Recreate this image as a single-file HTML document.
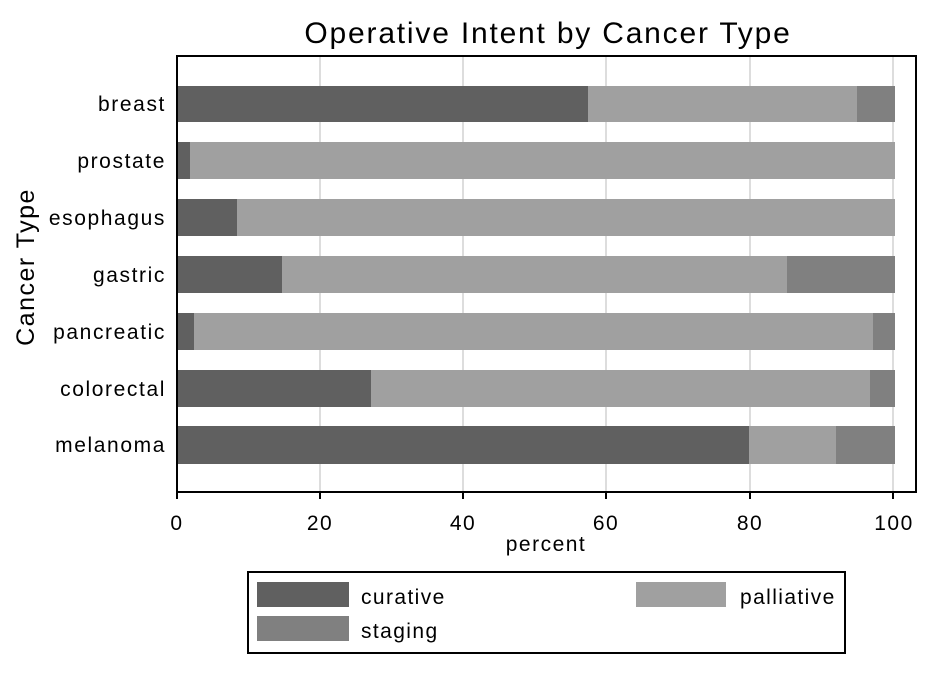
<!DOCTYPE html>
<html><head><style>
body{margin:0;background:#fff;}
text{font-family:"Liberation Sans",sans-serif;fill:#000;}
</style></head><body>
<svg width="945" height="671" xmlns="http://www.w3.org/2000/svg">
<rect width="945" height="671" fill="#fff"/>
<text x="548" y="43" font-size="30" letter-spacing="1.8" text-anchor="middle">Operative Intent by Cancer Type</text>
<g stroke="#ddd" stroke-width="2">
<line x1="320" y1="56" x2="320" y2="491"/><line x1="463" y1="56" x2="463" y2="491"/>
<line x1="606" y1="56" x2="606" y2="491"/><line x1="750" y1="56" x2="750" y2="491"/>
<line x1="893" y1="56" x2="893" y2="491"/>
</g>
<g>
<rect x="176" y="86" width="412" height="36" fill="#606060"/><rect x="588" y="86" width="269" height="36" fill="#a0a0a0"/><rect x="857" y="86" width="38" height="36" fill="#808080"/>
<rect x="176" y="142" width="14" height="37" fill="#606060"/><rect x="190" y="142" width="705" height="37" fill="#a0a0a0"/>
<rect x="176" y="199" width="61" height="37" fill="#606060"/><rect x="237" y="199" width="658" height="37" fill="#a0a0a0"/>
<rect x="176" y="256" width="106" height="37" fill="#606060"/><rect x="282" y="256" width="505" height="37" fill="#a0a0a0"/><rect x="787" y="256" width="108" height="37" fill="#808080"/>
<rect x="176" y="313" width="18" height="37" fill="#606060"/><rect x="194" y="313" width="679" height="37" fill="#a0a0a0"/><rect x="873" y="313" width="22" height="37" fill="#808080"/>
<rect x="176" y="370" width="195" height="37" fill="#606060"/><rect x="371" y="370" width="499" height="37" fill="#a0a0a0"/><rect x="870" y="370" width="25" height="37" fill="#808080"/>
<rect x="176" y="426" width="573" height="38" fill="#606060"/><rect x="749" y="426" width="87" height="38" fill="#a0a0a0"/><rect x="836" y="426" width="59" height="38" fill="#808080"/>
</g>
<rect x="177" y="56" width="739" height="436" fill="none" stroke="#000" stroke-width="2"/>
<g stroke="#000" stroke-width="2">
<line x1="177" y1="492" x2="177" y2="499"/><line x1="320" y1="492" x2="320" y2="499"/><line x1="463" y1="492" x2="463" y2="499"/><line x1="606" y1="492" x2="606" y2="499"/><line x1="750" y1="492" x2="750" y2="499"/><line x1="893" y1="492" x2="893" y2="499"/>
</g>
<g font-size="21" letter-spacing="1.5" text-anchor="middle">
<text x="177" y="530">0</text><text x="320" y="530">20</text><text x="463" y="530">40</text><text x="606" y="530">60</text><text x="750" y="530">80</text><text x="894" y="530">100</text>
<text x="546" y="551">percent</text>
</g>
<g font-size="21" letter-spacing="1.6" text-anchor="end">
<text x="166" y="111">breast</text><text x="166" y="168">prostate</text><text x="166" y="225">esophagus</text><text x="166" y="282">gastric</text><text x="166" y="339">pancreatic</text><text x="166" y="396">colorectal</text><text x="166" y="452">melanoma</text>
</g>
<text transform="translate(34,267) rotate(-90)" font-size="25" letter-spacing="1.5" text-anchor="middle">Cancer Type</text>
<rect x="248" y="572" width="597" height="81" fill="#fff" stroke="#000" stroke-width="2"/>
<rect x="257" y="582" width="92" height="25" fill="#606060"/><text x="361" y="604" font-size="21" letter-spacing="1.4">curative</text>
<rect x="636" y="582" width="90" height="25" fill="#a0a0a0"/><text x="740" y="604" font-size="21" letter-spacing="1.4">palliative</text>
<rect x="257" y="616" width="92" height="25" fill="#808080"/><text x="361" y="638" font-size="21" letter-spacing="1.4">staging</text>
</svg>
</body></html>
